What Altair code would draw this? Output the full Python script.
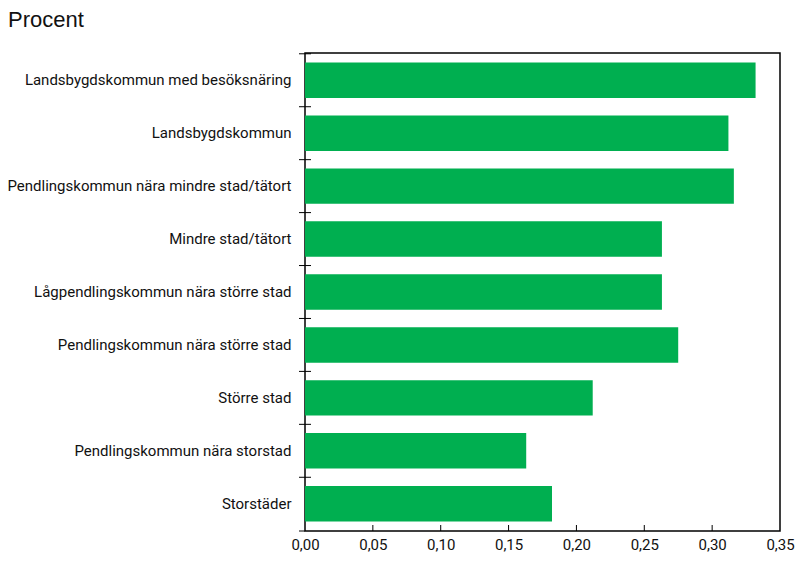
import altair as alt
import pandas as pd

categories = [
    "Landsbygdskommun med besöksnäring",
    "Landsbygdskommun",
    "Pendlingskommun nära mindre stad/tätort",
    "Mindre stad/tätort",
    "Lågpendlingskommun nära större stad",
    "Pendlingskommun nära större stad",
    "Större stad",
    "Pendlingskommun nära storstad",
    "Storstäder",
]
values = [0.332, 0.312, 0.316, 0.263, 0.263, 0.275, 0.212, 0.163, 0.182]
x_ticks = [0.0, 0.05, 0.10, 0.15, 0.20, 0.25, 0.30, 0.35]
inner_ticks = [0.05, 0.10, 0.15, 0.20, 0.25, 0.30]
title_text = ["Procent"]

df = pd.DataFrame({"cat": categories, "val": values})
tdf = pd.DataFrame({"t": inner_ticks})
ttl = pd.DataFrame({"t": title_text})

W, H = 475, 478
LEFT, TOP, RIGHT, BOTTOM = 297, 45, 15, 24
FONT = "Roboto, sans-serif"
PI = 0.33
PO = 0.18
STEP = H / (len(categories) - PI + 2 * PO)

xscale = alt.Scale(domain=[0, 0.35], nice=False, zero=True)
yscale = alt.Scale(paddingInner=PI, paddingOuter=PO)

bars = alt.Chart(df).mark_bar(color="#00AF50").encode(
    x=alt.X("val:Q", scale=xscale, title=None,
            axis=alt.Axis(values=x_ticks, format=".2f", labelFontSize=15,
                          labelFont=FONT, labelColor="#111", tickSize=0,
                          labelPadding=6, domain=False, grid=False,
                          labelFlush=False)),
    y=alt.Y("cat:N", sort=categories, scale=yscale, title=None,
            axis=alt.Axis(labelFontSize=15, labelFont=FONT, labelColor="#111",
                          ticks=False, labelPadding=14, domain=False,
                          grid=False, labelLimit=400)),
)

ytick = alt.Chart(df).mark_rule(color="#000", strokeWidth=1,
                                yOffset=-PI * STEP / 2).encode(
    y=alt.Y("cat:N", sort=categories, scale=yscale, bandPosition=0),
    x=alt.value(-6), x2=alt.value(6),
)

ytick_bottom = alt.Chart(ttl).mark_rule(color="#000", strokeWidth=1).encode(
    y=alt.value(H), x=alt.value(-6), x2=alt.value(0),
)

xtick_in = alt.Chart(tdf).mark_rule(color="#000", strokeWidth=1).encode(
    x=alt.X("t:Q", scale=xscale),
    y=alt.value(H), y2=alt.value(H - 6),
)

title = alt.Chart(ttl).mark_text(
    align="left", baseline="alphabetic", fontSize=22,
    font="Liberation Sans, Arial, sans-serif", color="#111",
).encode(text="t:N", x=alt.value(-LEFT), y=alt.value(-26))

chart = alt.layer(bars, ytick, ytick_bottom, xtick_in, title).properties(
    width=W, height=H,
    autosize=alt.AutoSizeParams(type="none"),
    padding={"left": LEFT, "top": TOP, "right": RIGHT, "bottom": BOTTOM},
).configure(
    locale={"number": {"decimal": ",", "thousands": " ", "grouping": [3],
                       "currency": ["", " kr"]}}
).configure_view(stroke="#000", strokeWidth=1.5)

chart.save("out.html", embed_options={"renderer": "svg", "actions": False})
